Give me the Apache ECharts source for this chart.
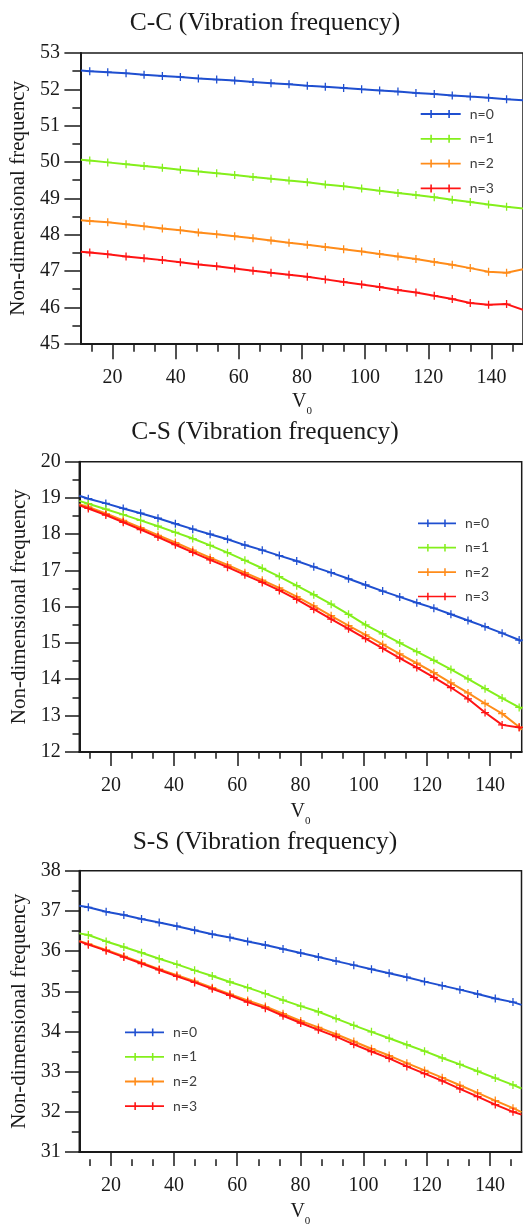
<!DOCTYPE html>
<html><head><meta charset="utf-8">
<script src="https://cdn.jsdelivr.net/npm/echarts@6/dist/echarts.min.js"></script>
<style>html,body{margin:0;padding:0;background:#fff}#c{width:523px;height:1228px}</style>
</head><body><div id="c"></div><script>
// ---------- data ----------
const seriesNames = ['n=0', 'n=1', 'n=2', 'n=3'];
const xTickLabels = [20, 40, 60, 80, 100, 120, 140];
const xMinorTicks = [13.33, 26.67, 33.33, 46.67, 53.33, 66.67, 73.33, 86.67, 93.33, 106.67, 113.33, 126.67, 133.33, 146.67];

// C-C
const ccV0 = [10, 12.8, 18.5, 24.3, 30.0, 35.8, 41.5, 47.2, 53.0, 58.7, 64.5, 70.2, 75.9, 81.7, 87.4, 93.2, 98.9, 104.6, 110.4, 116.1, 121.9, 127.6, 133.3, 139.1, 144.8, 150];
const ccN0 = [52.52, 52.50, 52.47, 52.44, 52.40, 52.37, 52.34, 52.30, 52.27, 52.24, 52.20, 52.17, 52.14, 52.10, 52.07, 52.04, 52.00, 51.97, 51.94, 51.90, 51.87, 51.83, 51.80, 51.77, 51.73, 51.70];
const ccN1 = [50.06, 50.04, 49.99, 49.94, 49.89, 49.84, 49.79, 49.74, 49.69, 49.64, 49.59, 49.54, 49.49, 49.44, 49.38, 49.33, 49.27, 49.21, 49.15, 49.09, 49.03, 48.96, 48.90, 48.83, 48.77, 48.72];
const ccN2 = [48.40, 48.38, 48.34, 48.29, 48.23, 48.17, 48.12, 48.06, 48.01, 47.96, 47.90, 47.84, 47.78, 47.72, 47.66, 47.60, 47.54, 47.47, 47.40, 47.33, 47.25, 47.17, 47.08, 46.98, 46.95, 47.05];
const ccN3 = [47.53, 47.51, 47.46, 47.40, 47.35, 47.30, 47.24, 47.18, 47.13, 47.07, 47.01, 46.95, 46.90, 46.84, 46.77, 46.70, 46.63, 46.56, 46.48, 46.41, 46.32, 46.23, 46.12, 46.07, 46.09, 45.93];

// C-S
const csV0 = [10, 12.85, 18.4, 23.9, 29.4, 34.9, 40.4, 45.9, 51.4, 56.9, 62.4, 67.9, 73.3, 78.8, 84.2, 89.7, 95.2, 100.6, 106.0, 111.4, 116.8, 122.2, 127.6, 133.0, 138.4, 143.8, 149.2, 150];
const csN0 = [19.06, 18.98, 18.85, 18.71, 18.58, 18.44, 18.29, 18.14, 18.00, 17.86, 17.70, 17.56, 17.41, 17.26, 17.10, 16.94, 16.77, 16.60, 16.43, 16.27, 16.11, 15.96, 15.79, 15.62, 15.45, 15.27, 15.08, 15.05];
const csN1 = [18.92, 18.84, 18.69, 18.54, 18.38, 18.22, 18.05, 17.88, 17.69, 17.49, 17.28, 17.06, 16.83, 16.58, 16.33, 16.07, 15.79, 15.50, 15.25, 15.00, 14.76, 14.52, 14.27, 14.01, 13.74, 13.48, 13.22, 13.18];
const csN2 = [18.83, 18.75, 18.57, 18.38, 18.18, 17.97, 17.77, 17.56, 17.35, 17.15, 16.94, 16.73, 16.52, 16.28, 16.02, 15.75, 15.48, 15.22, 14.96, 14.70, 14.44, 14.18, 13.90, 13.62, 13.33, 13.05, 12.68, 12.60];
const csN3 = [18.80, 18.71, 18.53, 18.33, 18.13, 17.92, 17.71, 17.50, 17.29, 17.09, 16.88, 16.67, 16.45, 16.20, 15.93, 15.66, 15.39, 15.12, 14.85, 14.58, 14.32, 14.05, 13.77, 13.46, 13.08, 12.74, 12.67, 12.66];

// S-S
const ssV0 = [10, 12.86, 18.5, 24.1, 29.7, 35.3, 40.9, 46.5, 52.1, 57.7, 63.3, 68.9, 74.5, 80.1, 85.7, 91.3, 96.9, 102.5, 108.1, 113.7, 119.3, 124.9, 130.5, 136.1, 141.7, 147.3, 150];
const ssN0 = [37.13, 37.09, 36.98, 36.90, 36.80, 36.71, 36.62, 36.52, 36.42, 36.34, 36.24, 36.15, 36.05, 35.95, 35.85, 35.75, 35.65, 35.55, 35.45, 35.35, 35.24, 35.14, 35.04, 34.93, 34.82, 34.73, 34.66];
const ssN1 = [36.44, 36.40, 36.24, 36.10, 35.96, 35.81, 35.67, 35.52, 35.38, 35.23, 35.09, 34.94, 34.78, 34.63, 34.49, 34.32, 34.15, 33.99, 33.83, 33.67, 33.51, 33.34, 33.18, 33.01, 32.84, 32.67, 32.58];
const ssN2 = [36.25, 36.18, 36.03, 35.87, 35.71, 35.55, 35.40, 35.25, 35.09, 34.93, 34.77, 34.62, 34.44, 34.26, 34.10, 33.93, 33.75, 33.57, 33.40, 33.21, 33.03, 32.85, 32.66, 32.47, 32.28, 32.09, 31.99];
const ssN3 = [36.24, 36.16, 36.01, 35.85, 35.69, 35.53, 35.37, 35.22, 35.06, 34.90, 34.73, 34.58, 34.39, 34.21, 34.04, 33.87, 33.68, 33.50, 33.33, 33.13, 32.95, 32.77, 32.57, 32.38, 32.18, 32.00, 31.93];

// ---------- style ----------
const SERIF = '"Liberation Serif","Times New Roman",serif';
const SANS = 'Lato,"Open Sans",sans-serif';
const INK = '#1a1a1a';
const COLORS = ['#1f4fd0', '#84ef1c', '#ff8c1a', '#ff1414'];
const PLUS = 'path://M-0.8,-5L0.8,-5L0.8,-0.8L5,-0.8L5,0.8L0.8,0.8L0.8,5L-0.8,5L-0.8,0.8L-5,0.8L-5,-0.8L-0.8,-0.8Z';
const LEGEND_ICON = 'path://M0,3.1L40,3.1L40,4.9L0,4.9Z M9.6,0L11.2,0L11.2,8L9.6,8Z M27.6,0L29.2,0L29.2,8L27.6,8Z';

const panels = [
  { title: 'C-C (Vibration frequency)', titleTop: 10.5, left: 77, top: 53, width: 448, height: 290.7,
    ymin: 45, ymax: 53, xs: ccV0, ys: [ccN0, ccN1, ccN2, ccN3],
    yt: 16.5, ym: 8.5, xt: 15.5, xm: 8, ylm: 21, ygap: 46, xgap: 43,
    legend: { left: 420.7, top: 107, gap: 10.8, w: 40 } },
  { title: 'C-S (Vibration frequency)', titleTop: 419, left: 79.3, top: 461.7, width: 442.4, height: 290,
    ymin: 12, ymax: 20, xs: csV0, ys: [csN0, csN1, csN2, csN3],
    yt: 14.3, ym: 6.8, xt: 14.3, xm: 7, ylm: 18.5, ygap: 48, xgap: 45,
    legend: { left: 418, top: 516.3, gap: 10.4, w: 38 } },
  { title: 'S-S (Vibration frequency)', titleTop: 829, left: 79.3, top: 870.7, width: 442.2, height: 288.6,
    ymin: 31, ymax: 38, xs: ssV0, ys: [ssN0, ssN1, ssN2, ssN3],
    yt: 14.3, ym: 7.5, xt: 14, xm: 6.8, ylm: 18.5, ygap: 48, xgap: 45,
    legend: { left: 125, top: 1025.3, gap: 10.6, w: 39 } }
];

const option = { animation: false, backgroundColor: '#fff',
  title: [], grid: [], xAxis: [], yAxis: [], legend: [], series: [] };

panels.forEach((p, k) => {
  option.title.push({ text: p.title, left: 265, top: p.titleTop, textAlign: 'center', padding: 0,
    textStyle: { fontFamily: SERIF, fontSize: 25.5, fontWeight: 'normal', color: INK } });
  option.grid.push({ left: p.left, top: p.top, width: p.width, height: p.height, show: true,
    borderColor: INK, borderWidth: 1.5, backgroundColor: 'transparent', containLabel: false });
  option.xAxis.push({ gridIndex: k, type: 'value', min: 10, max: 150, position: 'bottom',
    axisLine: { show: true, onZero: false, lineStyle: { color: INK, width: 2 } },
    axisTick: { show: true, customValues: xTickLabels, length: p.xt, lineStyle: { color: INK, width: 1.5 } },
    axisLabel: { customValues: xTickLabels, margin: 24, fontFamily: SERIF, fontSize: 20, color: INK },
    splitLine: { show: false },
    name: '{v|V}{s|0}', nameLocation: 'middle', nameGap: p.xgap,
    nameTextStyle: { rich: {
      v: { fontFamily: SERIF, fontSize: 20, lineHeight: 30, color: INK },
      s: { fontFamily: SERIF, fontSize: 11, lineHeight: 11, verticalAlign: 'bottom', color: INK } } } });
  option.xAxis.push({ gridIndex: k, type: 'value', min: 10, max: 150, position: 'top', offset: -p.height,
    axisLine: { show: false },
    axisTick: { show: true, inside: true, customValues: xMinorTicks, length: p.xm, lineStyle: { color: INK, width: 1.5 } },
    axisLabel: { show: false }, splitLine: { show: false } });
  option.yAxis.push({ gridIndex: k, type: 'value', min: p.ymin, max: p.ymax, interval: 1,
    axisLine: { show: true, onZero: false, lineStyle: { color: INK, width: 2 } },
    axisTick: { show: true, length: p.yt, lineStyle: { color: INK, width: 1.5 } },
    minorTick: { show: true, splitNumber: 2, length: p.ym, lineStyle: { color: INK, width: 1.5 } },
    axisLabel: { margin: p.ylm, fontFamily: SERIF, fontSize: 20, color: INK },
    splitLine: { show: false },
    name: 'Non-dimensional frequency', nameLocation: 'middle', nameGap: p.ygap,
    nameTextStyle: { fontFamily: SERIF, fontSize: 21, color: INK } });
  option.legend.push({ orient: 'vertical', left: p.legend.left, top: p.legend.top, padding: 0,
    itemGap: p.legend.gap, itemWidth: p.legend.w, itemHeight: 8, icon: LEGEND_ICON,
    data: seriesNames, selectedMode: false,
    textStyle: { fontFamily: SANS, fontSize: 14, color: '#404040', padding: [0, 0, 0, 4] } });
  p.ys.forEach((ys, i) => {
    const last = ys.length - 1;
    option.series.push({ name: seriesNames[i], type: 'line', xAxisIndex: 2 * k, yAxisIndex: k,
      data: p.xs.map((x, j) => ({ value: [x, ys[j]], symbolSize: (j === 0 || j === last) ? 0 : 8 })),
      symbol: PLUS, showSymbol: true, color: COLORS[i],
      lineStyle: { width: 2, color: COLORS[i] }, itemStyle: { color: COLORS[i] },
      emphasis: { disabled: true }, z: 2 + i });
  });
});

const chart = echarts.init(document.getElementById('c'), null, { renderer: 'canvas' });
chart.setOption(option);
</script></body></html>
